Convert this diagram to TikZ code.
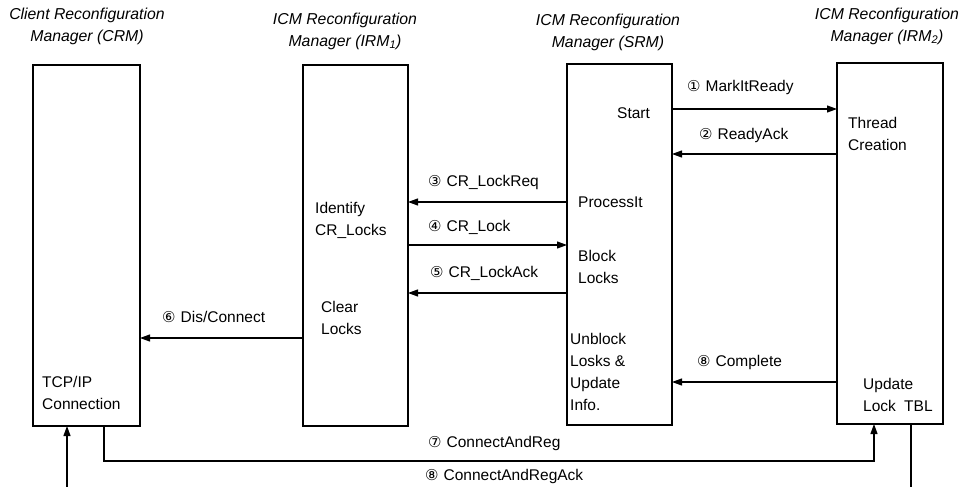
\documentclass[tikz,border=0pt]{standalone}
\usepackage{fontspec}
\setmainfont{Liberation Sans}
\newfontfamily\circfont{DejaVu Sans}
\usetikzlibrary{arrows.meta}
\newcommand{\cn}[1]{{\circfont\fontsize{15}{15}\selectfont #1}\hspace{5pt}}
\begin{document}
\begin{tikzpicture}[x=1pt,y=-1pt,
  every node/.style={font=\fontsize{15.5}{22}\selectfont, inner sep=0pt},
  box/.style={draw, line width=1.2pt, inner sep=0pt, outer sep=0pt},
  ttl/.style={font=\fontsize{15.8}{22}\selectfont\itshape, align=center},
  txt/.style={anchor=west, align=left},
  lbl/.style={anchor=west},
  arr/.style={line width=1.1pt, -{Triangle[length=10pt,width=7pt]}},
  ln/.style={line width=1.1pt}]
\useasboundingbox (0,0) rectangle (962,487);
% boxes
\node[box, minimum width=107pt, minimum height=361pt] (crm)  at (86.5,245.5) {};
\node[box, minimum width=105pt, minimum height=361pt] (irm1) at (355.5,245.5) {};
\node[box, minimum width=105pt, minimum height=361pt] (srm)  at (619.5,244.5) {};
\node[box, minimum width=106pt, minimum height=361pt] (irm2) at (890,243.5) {};
% titles
\node[ttl] (t1) at (87,26.5) {Client Reconfiguration\\Manager (CRM)};
\node[ttl] (t2) at (345,31) {ICM Reconfiguration\\Manager (IRM\textsubscript{1})};
\node[ttl] (t3) at (608,32) {ICM Reconfiguration\\Manager (SRM)};
\node[ttl] (t4) at (887,26) {ICM Reconfiguration\\Manager (IRM\textsubscript{2})};
% inner texts
\node[txt] (s1) at (617,113) {Start};
\node[txt] (s2) at (848,134) {Thread\\Creation};
\node[txt] (s3) at (578,202) {ProcessIt};
\node[txt] (s4) at (315,220) {Identify\\CR\_Locks};
\node[txt] (s5) at (578,267) {Block\\Locks};
\node[txt] (s6) at (321,318) {Clear\\Locks};
\node[txt] (s7) at (42,393) {TCP/IP\\Connection};
\node[txt] (s8) at (570,372) {Unblock\\Losks \&\\Update\\Info.};
\node[txt] (s9) at (863,395) {Update\\Lock\hspace{4pt} TBL};
% y levels
\coordinate (y1) at (0,109);
\coordinate (y2) at (0,154);
\coordinate (y3) at (0,202);
\coordinate (y4) at (0,245);
\coordinate (y5) at (0,293);
\coordinate (y6) at (0,338);
\coordinate (y8) at (0,382);
% messages
\draw[arr] (srm.east |- y1) -- (irm2.west |- y1);
\draw[arr] (irm2.west |- y2) -- (srm.east |- y2);
\draw[arr] (srm.west |- y3) -- (irm1.east |- y3);
\draw[arr] (irm1.east |- y4) -- (srm.west |- y4);
\draw[arr] (srm.west |- y5) -- (irm1.east |- y5);
\draw[arr] (irm1.west |- y6) -- (crm.east |- y6);
\draw[arr] (irm2.west |- y8) -- (srm.east |- y8);
% labels
\node[lbl] (l1) at (687,87) {\cn{①}MarkItReady};
\node[lbl] (l2) at (699,135) {\cn{②}ReadyAck};
\node[lbl] (l3) at (428,182) {\cn{③}CR\_LockReq};
\node[lbl] (l4) at (428,227) {\cn{④}CR\_Lock};
\node[lbl] (l5) at (430,273) {\cn{⑤}CR\_LockAck};
\node[lbl] (l6) at (162,317) {\cn{⑥}Dis/Connect};
\node[lbl] (l8) at (697,362) {\cn{⑧}Complete};
\node[lbl] (l7) at (428,443) {\cn{⑦}ConnectAndReg};
\node[lbl] (l9) at (425,476) {\cn{⑧}ConnectAndRegAck};
% bottom connectors
\coordinate (c7l) at (104,461);
\coordinate (c7r) at (874,461);
\draw[arr] (crm.south -| c7l) -- (c7l) -- (c7r) -- (irm2.south -| c7r);
\coordinate (c8r) at (911,487);
\coordinate (c8l) at (67,487);
\draw[ln] (irm2.south -| c8r) -- (c8r);
\draw[arr] (c8l) -- (crm.south -| c8l);
\end{tikzpicture}
\end{document}
